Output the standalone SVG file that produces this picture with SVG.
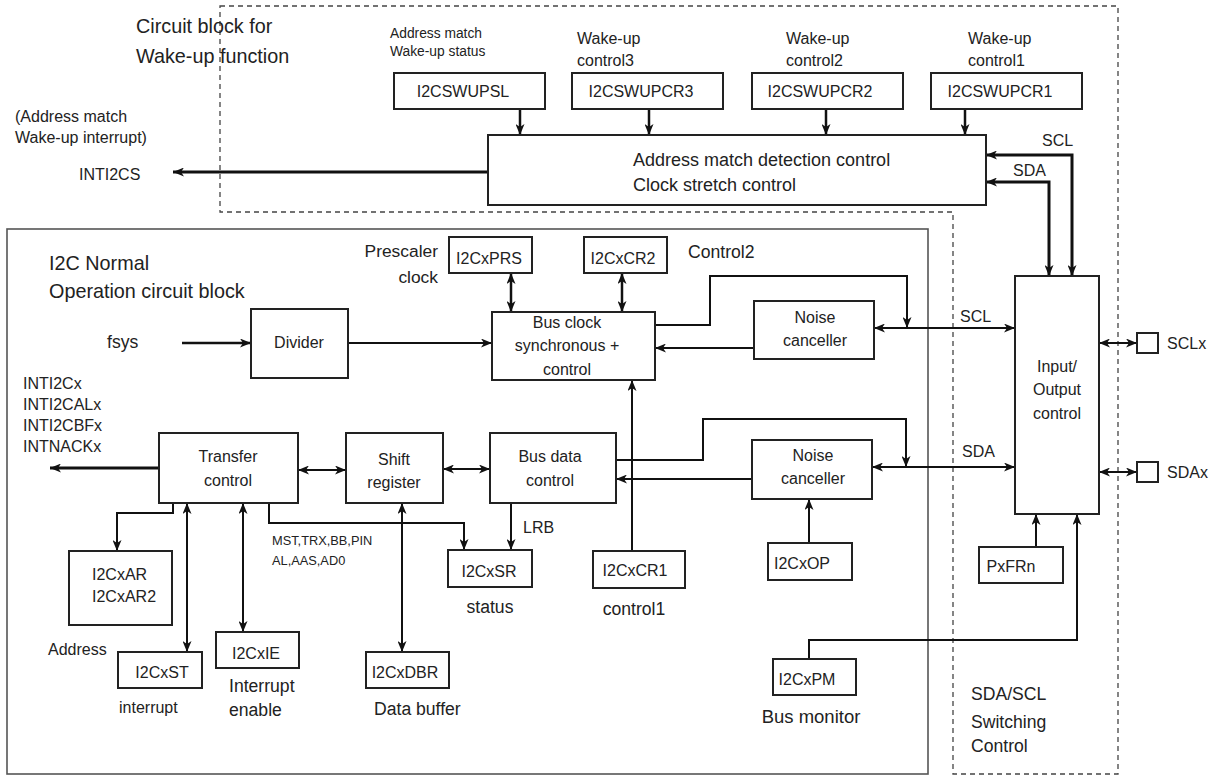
<svg xmlns="http://www.w3.org/2000/svg" width="1215" height="776" viewBox="0 0 1215 776">
<style>
.box{fill:#fff;stroke:#222;stroke-width:2}
.t{font-family:"Liberation Sans",Arial,sans-serif;fill:#222;font-size:16px}
.c{text-anchor:middle}
.e{text-anchor:end}
.big{font-size:19.8px}
.cap{font-size:17.6px}
.sm{font-size:12.8px}
.ln{fill:none;stroke:#111;stroke-width:2}
.thk{stroke-width:3}
.md{stroke-width:2.5}
</style>
<defs>
<marker id="a" viewBox="0 0 11 9" refX="11" refY="4.5" markerWidth="11" markerHeight="9" markerUnits="userSpaceOnUse" orient="auto-start-reverse"><path d="M0,0 L11,4.5 L0,9 L3,4.5 Z" fill="#111"/></marker>
</defs>
<rect width="1215" height="776" fill="#fff"/>
<g id="regions">
<path d="M220,6 H1118 V774 H953 V212 H220 Z" fill="none" stroke="#444" stroke-width="1.3" stroke-dasharray="5,4"/>
<rect x="7" y="229" width="921" height="545" fill="none" stroke="#555" stroke-width="1.6"/>
</g>
<g id="labels" class="t">
<text class="big" x="136" y="33">Circuit block for</text>
<text class="big" x="136" y="63">Wake-up function</text>
<text x="390" y="38" style="font-size:13.8px">Address match</text>
<text x="390" y="56" style="font-size:13.8px">Wake-up status</text>
<text x="577" y="44">Wake-up</text>
<text x="577" y="66">control3</text>
<text x="786" y="44">Wake-up</text>
<text x="786" y="66">control2</text>
<text x="968" y="44">Wake-up</text>
<text x="968" y="66">control1</text>
<text x="15" y="122">(Address match</text>
<text x="15" y="143">Wake-up interrupt)</text>
<text x="79" y="180">INTI2CS</text>
<text x="1042" y="146">SCL</text>
<text x="1013" y="176">SDA</text>
<text class="big" x="49" y="270">I2C Normal</text>
<text class="big" x="49" y="298">Operation circuit block</text>
<text class="e" x="438" y="257" style="font-size:17.4px">Prescaler</text>
<text class="e" x="438" y="283" style="font-size:17.4px">clock</text>
<text class="cap" x="688" y="258">Control2</text>
<text class="cap" x="107" y="348">fsys</text>
<text x="960" y="322">SCL</text>
<text x="962" y="457">SDA</text>
<text x="23" y="389">INTI2Cx</text>
<text x="23" y="410">INTI2CALx</text>
<text x="23" y="431">INTI2CBFx</text>
<text x="23" y="452">INTNACKx</text>
<text class="sm" x="272" y="545">MST,TRX,BB,PIN</text>
<text class="sm" x="272" y="565">AL,AAS,AD0</text>
<text x="523" y="533">LRB</text>
<text x="48" y="655">Address</text>
<text x="119" y="713">interrupt</text>
<text class="cap" x="229" y="692">Interrupt</text>
<text class="cap" x="229" y="716">enable</text>
<text class="cap" x="374" y="715">Data buffer</text>
<text class="cap c" x="490" y="613">status</text>
<text class="cap c" x="634" y="615">control1</text>
<text class="c" x="811" y="723" style="font-size:18.5px">Bus monitor</text>
<text class="cap" x="971" y="700">SDA/SCL</text>
<text class="cap" x="971" y="728">Switching</text>
<text class="cap" x="971" y="752">Control</text>
<text x="1167" y="349">SCLx</text>
<text x="1167" y="478">SDAx</text>
</g>
<g id="connectors">
<path class="ln md" d="M520,109 V135" marker-end="url(#a)"/>
<path class="ln md" d="M649,109 V135" marker-end="url(#a)"/>
<path class="ln md" d="M826,109 V135" marker-end="url(#a)"/>
<path class="ln md" d="M965,109 V135" marker-end="url(#a)"/>
<path class="ln thk" d="M488,172 H173" marker-end="url(#a)"/>
<path class="ln thk" d="M1072,276 V155 H986" marker-start="url(#a)" marker-end="url(#a)"/>
<path class="ln thk" d="M1049,276 V182 H986" marker-start="url(#a)" marker-end="url(#a)"/>
<path class="ln md" d="M511,273 V312" marker-start="url(#a)" marker-end="url(#a)"/>
<path class="ln md" d="M622,273 V312" marker-start="url(#a)" marker-end="url(#a)"/>
<path class="ln md" d="M182,343 H251" marker-end="url(#a)"/>
<path class="ln" d="M348,343 H492" marker-end="url(#a)"/>
<path class="ln" d="M655,325 H710 V276 H907 V328" marker-end="url(#a)"/>
<path class="ln" d="M754,348 H655" marker-end="url(#a)"/>
<path class="ln" d="M874,328 H1015" marker-start="url(#a)" marker-end="url(#a)"/>
<path class="ln thk" d="M159,468 H50" marker-end="url(#a)"/>
<path class="ln" d="M298,470 H346" marker-start="url(#a)" marker-end="url(#a)"/>
<path class="ln" d="M443,469 H490" marker-start="url(#a)" marker-end="url(#a)"/>
<path class="ln" d="M616,460 H703 V419 H906 V467" marker-end="url(#a)"/>
<path class="ln" d="M752,479 H616" marker-end="url(#a)"/>
<path class="ln" d="M872,467 H1015" marker-start="url(#a)" marker-end="url(#a)"/>
<path class="ln" d="M632,551 V380" marker-end="url(#a)"/>
<path class="ln" d="M809,543 V499" marker-end="url(#a)"/>
<path class="ln" d="M809,659 V640 H1077 V514" marker-end="url(#a)"/>
<path class="ln" d="M1036,547 V514" marker-end="url(#a)"/>
<path class="ln" d="M1099,343 H1137" marker-start="url(#a)" marker-end="url(#a)"/>
<path class="ln" d="M1099,472 H1137" marker-start="url(#a)" marker-end="url(#a)"/>
<path class="ln" d="M173,503 V513 H117 V551" marker-end="url(#a)"/>
<path class="ln" d="M187,503 V652" marker-start="url(#a)" marker-end="url(#a)"/>
<path class="ln" d="M243,503 V632" marker-start="url(#a)" marker-end="url(#a)"/>
<path class="ln" d="M269,503 V523 H464 V550" marker-end="url(#a)"/>
<path class="ln" d="M402,503 V652" marker-start="url(#a)" marker-end="url(#a)"/>
<path class="ln" d="M511,503 V550" marker-end="url(#a)"/>
</g>
<g id="wupsl"><rect class="box" x="394" y="73" width="151" height="36"/><text class="t c" x="463" y="97">I2CSWUPSL</text></g>
<g id="wupcr3"><rect class="box" x="572" y="73" width="151" height="36"/><text class="t c" x="641" y="97">I2CSWUPCR3</text></g>
<g id="wupcr2"><rect class="box" x="752" y="73" width="151" height="36"/><text class="t c" x="820" y="97">I2CSWUPCR2</text></g>
<g id="wupcr1"><rect class="box" x="931" y="73" width="151" height="36"/><text class="t c" x="1000" y="97">I2CSWUPCR1</text></g>
<g id="detect"><rect class="box" x="488" y="135" width="498" height="70"/><text class="t" x="633" y="166" style="font-size:18px">Address match detection control</text><text class="t" x="633" y="191" style="font-size:18px">Clock stretch control</text></g>
<g id="io"><rect class="box" x="1015" y="276" width="84" height="238"/><text class="t c" x="1057" y="372">Input/</text><text class="t c" x="1057" y="395">Output</text><text class="t c" x="1057" y="419">control</text></g>
<g id="prs"><rect class="box" x="449" y="237" width="83" height="36"/><text class="t c" x="489" y="264">I2CxPRS</text></g>
<g id="cr2"><rect class="box" x="584" y="237" width="83" height="36"/><text class="t c" x="623" y="264">I2CxCR2</text></g>
<g id="divider"><rect class="box" x="251" y="309" width="97" height="69"/><text class="t c" x="299" y="348">Divider</text></g>
<g id="busclk"><rect class="box" x="492" y="312" width="163" height="68"/><text class="t c" x="567" y="328">Bus clock</text><text class="t c" x="567" y="351">synchronous +</text><text class="t c" x="567" y="375">control</text></g>
<g id="nc1"><rect class="box" x="754" y="301" width="120" height="58"/><text class="t c" x="815" y="323">Noise</text><text class="t c" x="815" y="346">canceller</text></g>
<g id="transfer"><rect class="box" x="159" y="433" width="139" height="70"/><text class="t c" x="228" y="462">Transfer</text><text class="t c" x="228" y="486">control</text></g>
<g id="shift"><rect class="box" x="346" y="433" width="97" height="70"/><text class="t c" x="394" y="465">Shift</text><text class="t c" x="394" y="488">register</text></g>
<g id="busdata"><rect class="box" x="490" y="433" width="126" height="70"/><text class="t c" x="550" y="462">Bus data</text><text class="t c" x="550" y="486">control</text></g>
<g id="nc2"><rect class="box" x="752" y="440" width="120" height="59"/><text class="t c" x="813" y="461">Noise</text><text class="t c" x="813" y="484">canceller</text></g>
<g id="cr1"><rect class="box" x="593" y="551" width="92" height="37"/><text class="t c" x="635" y="576">I2CxCR1</text></g>
<g id="op"><rect class="box" x="768" y="543" width="84" height="37"/><text class="t c" x="802" y="569">I2CxOP</text></g>
<g id="pm"><rect class="box" x="773" y="659" width="83" height="36"/><text class="t c" x="807" y="685">I2CxPM</text></g>
<g id="pxfrn"><rect class="box" x="979" y="547" width="84" height="36"/><text class="t c" x="1011" y="572">PxFRn</text></g>
<g id="sclx"><rect class="box" x="1137" y="333" width="21" height="20"/></g>
<g id="sdax"><rect class="box" x="1137" y="462" width="21" height="20"/></g>
<g id="ar"><rect class="box" x="69" y="551" width="103" height="74"/><text class="t" x="92" y="580">I2CxAR</text><text class="t" x="92" y="602">I2CxAR2</text></g>
<g id="st"><rect class="box" x="118" y="652" width="84" height="36"/><text class="t c" x="162" y="678">I2CxST</text></g>
<g id="ie"><rect class="box" x="216" y="632" width="83" height="36"/><text class="t c" x="256" y="659">I2CxIE</text></g>
<g id="dbr"><rect class="box" x="366" y="652" width="83" height="36"/><text class="t c" x="405" y="678">I2CxDBR</text></g>
<g id="sr"><rect class="box" x="448" y="550" width="84" height="37"/><text class="t c" x="489" y="577">I2CxSR</text></g>
</svg>
